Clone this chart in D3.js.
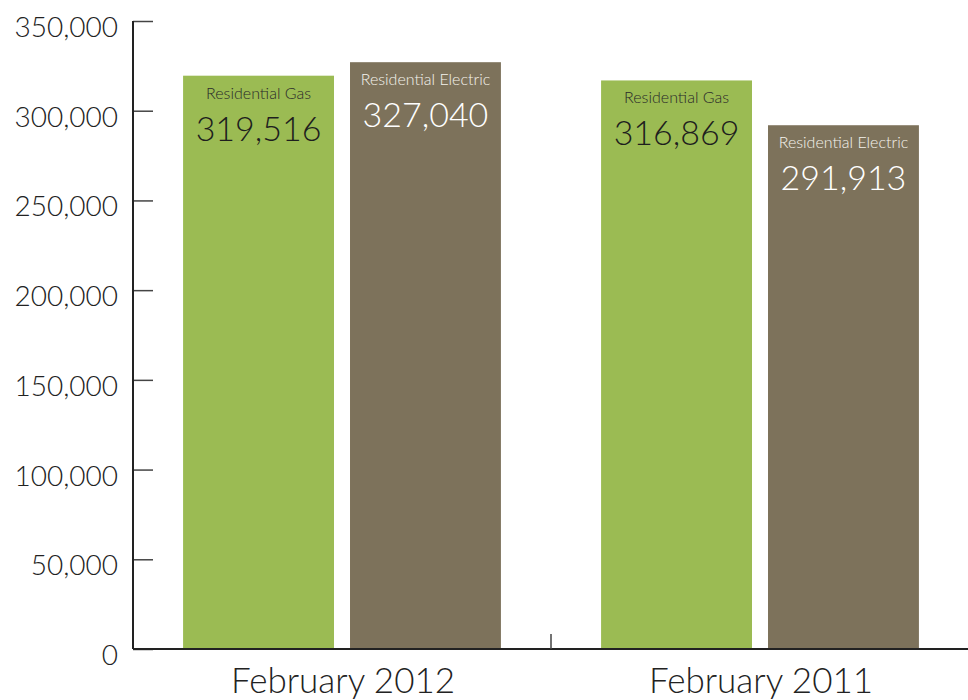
<!DOCTYPE html>
<html>
<head>
<meta charset="utf-8">
<script src="https://cdn.jsdelivr.net/npm/d3@7"></script>
<style>
  body { margin: 0; background: #fff; }
  svg { display: block; font-family: Lato, "Open Sans", sans-serif; font-weight: 300; }
</style>
</head>
<body>
<svg id="chart" width="968" height="700"></svg>
<script>
const periods = ["February 2012", "February 2011"];
const seriesNames = ["Residential Gas", "Residential Electric"];
const gasValues = [319516, 316869];
const electricValues = [327040, 291913];
const yTicks = [0, 50000, 100000, 150000, 200000, 250000, 300000, 350000];

const seriesColors = ["#9bbb53", "#7d725b"];
const labelColors = ["#2a2a2a", "#f5f2ec"];
const numberColors = ["#1e1e1e", "#ffffff"];

const data = [];
periods.forEach((p, i) => {
  data.push({ period: p, series: seriesNames[0], value: gasValues[i], s: 0 });
  data.push({ period: p, series: seriesNames[1], value: electricValues[i], s: 1 });
});

const svg = d3.select("#chart");
const mLeft = 133, mRight = 969, mTop = 21, mBottom = 649;

const y = d3.scaleLinear().domain([0, 350000]).range([mBottom, mTop]);
const x0 = d3.scaleBand().domain(periods).range([mLeft, mRight]).paddingInner(0).paddingOuter(0);
const x1 = d3.scaleBand().domain(seriesNames).range([0, x0.bandwidth()]).paddingInner(0.096).paddingOuter(0.3);

// bars
const g = svg.append("g");
const bars = g.selectAll("g.bar").data(data).join("g").attr("class", "bar");
bars.append("rect")
  .attr("x", d => x0(d.period) + x1(d.series))
  .attr("y", d => y(d.value))
  .attr("width", x1.bandwidth())
  .attr("height", d => y(0) - y(d.value))
  .attr("fill", d => seriesColors[d.s]);
bars.append("text")
  .attr("x", d => x0(d.period) + x1(d.series) + x1.bandwidth() / 2)
  .attr("y", d => y(d.value) + 23)
  .attr("text-anchor", "middle")
  .attr("font-size", 16)
  .attr("fill", d => labelColors[d.s])
  .text(d => d.series);
bars.append("text")
  .attr("x", d => x0(d.period) + x1(d.series) + x1.bandwidth() / 2)
  .attr("y", d => y(d.value) + 65)
  .attr("text-anchor", "middle")
  .attr("font-size", 34)
  .attr("fill", d => numberColors[d.s])
  .text(d => d3.format(",")(d.value));

// y axis
const yAxis = d3.axisRight(y).tickValues(yTicks).tickSize(20).tickFormat("");
const ya = svg.append("g").attr("transform", `translate(${mLeft},0)`).call(yAxis);
ya.select(".domain").remove();
ya.selectAll(".tick line").attr("stroke", "#444").attr("stroke-width", 1.5);
svg.append("line").attr("x1", mLeft).attr("x2", mLeft).attr("y1", mTop).attr("y2", mBottom)
  .attr("stroke", "#222").attr("stroke-width", 2);
svg.selectAll("text.ylab").data(yTicks).join("text").attr("class", "ylab")
  .attr("x", 118).attr("y", d => y(d) + 16)
  .attr("text-anchor", "end").attr("font-size", 28).attr("fill", "#222")
  .text(d => d3.format(",")(d));

// x axis
svg.append("line").attr("x1", mLeft).attr("x2", 968).attr("y1", mBottom).attr("y2", mBottom)
  .attr("stroke", "#222").attr("stroke-width", 2);
svg.append("line").attr("x1", x0(periods[1])).attr("x2", x0(periods[1]))
  .attr("y1", mBottom - 15).attr("y2", mBottom).attr("stroke", "#444").attr("stroke-width", 1.5);
svg.selectAll("text.xlab").data(periods).join("text").attr("class", "xlab")
  .attr("x", d => x0(d) + x0.bandwidth() / 2 + 1).attr("y", 693)
  .attr("text-anchor", "middle").attr("font-size", 35).attr("fill", "#222")
  .text(d => d);
</script>
</body>
</html>
